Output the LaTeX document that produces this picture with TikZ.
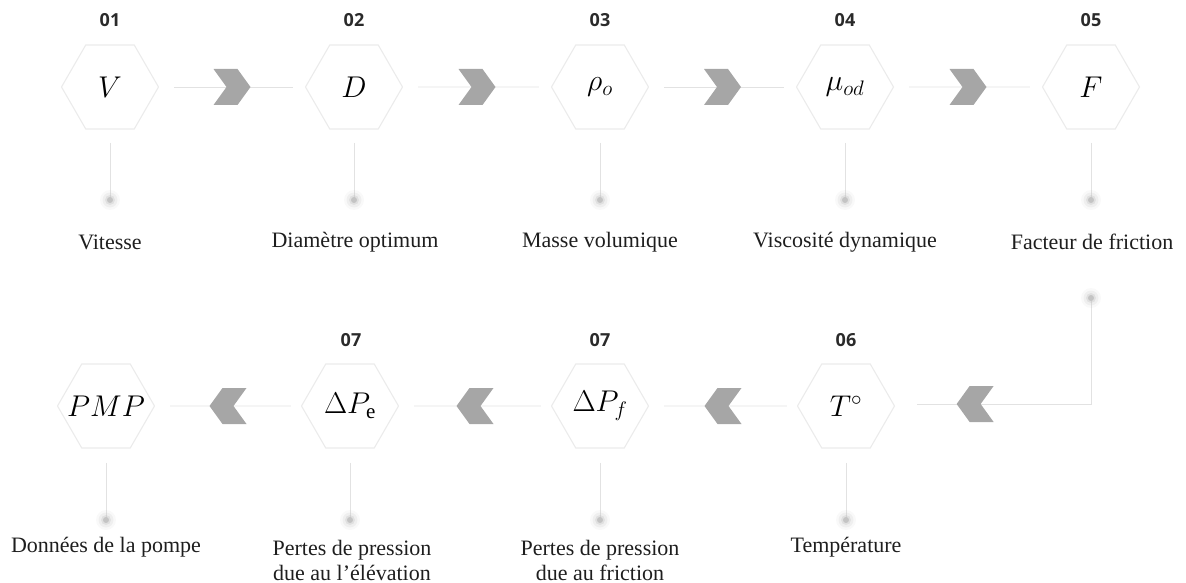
\RequirePackage{fix-cm}
\documentclass[tikz,border=0pt]{standalone}
\usepackage{fontspec}
\setmainfont{Liberation Serif}
\newfontfamily\numfont{Open Sans}
\usetikzlibrary{shapes.geometric,calc}
\definecolor{hexgray}{HTML}{EBEBEB}
\definecolor{linegray}{HTML}{E2E2E2}
\definecolor{chevgray}{HTML}{A6A6A6}
\definecolor{dotgray}{HTML}{C4C4C4}
\definecolor{labblack}{HTML}{1E1E1E}
\definecolor{numblack}{HTML}{2A2A2A}
\newcommand{\hxtext}[1]{\makebox[0pt]{#1}}
\tikzset{
  hexa/.style={regular polygon, regular polygon sides=6, minimum size=97pt,
    inner sep=0pt, draw=hexgray, line width=1.1pt, text=black,
    font=\fontsize{30}{34}\selectfont},
  conn/.style={draw=linegray, line width=0.9pt},
  numlab/.style={font=\numfont\bfseries\fontsize{18}{21}\selectfont, text=numblack},
  lab/.style={font=\fontsize{22}{25}\selectfont, align=center, text=labblack, inner sep=0pt},
  chevright/.pic={\fill[chevgray] (-18.5,-18) -- (5.5,-18) -- (18.5,0) -- (5.5,18) -- (-18.5,18) -- (-5.5,0) -- cycle;},
  chevleft/.pic={\fill[chevgray] (18.5,-18) -- (-5.5,-18) -- (-18.5,0) -- (-5.5,18) -- (18.5,18) -- (5.5,0) -- cycle;},
  glowdot/.pic={
    \fill[dotgray, opacity=0.10] (0,0) circle (10pt);
    \fill[dotgray, opacity=0.18] (0,0) circle (7.5pt);
    \fill[dotgray, opacity=0.35] (0,0) circle (5pt);
    \fill[dotgray] (0,0) circle (3pt);}
}
\begin{document}
\begin{tikzpicture}[x=1pt,y=-1pt]
\useasboundingbox (0,0) rectangle (1186,583);
% top row
\node[hexa] (v)   at (110,87) {\hxtext{$V$}};
\node[hexa] (d)   at (354,87) {\hxtext{$D$}};
\node[hexa] (rho) at (600,87) {\hxtext{$\rho_o$}};
\node[hexa] (mu)  at (845,87) {\hxtext{$\mu_{od}$}};
\node[hexa] (f)   at (1091,87) {\hxtext{$F$}};
% bottom row
\node[hexa] (pmp) at (106,406) {\hxtext{$PMP$}};
\node[hexa] (dpe) at (350,406) {\hxtext{$\Delta P_{\mathrm{e}}$}};
\node[hexa] (dpf) at (600,406) {\hxtext{$\Delta P_f$}};
\node[hexa] (t)   at (846,406) {\hxtext{$T^{\circ}$}};
% numbers
\node[numlab] (n1) at (110,20) {01};
\node[numlab] (n2) at (354,20) {02};
\node[numlab] (n3) at (600,20) {03};
\node[numlab] (n4) at (845,20) {04};
\node[numlab] (n5) at (1091,20) {05};
\node[numlab] (n7a) at (351,340) {07};
\node[numlab] (n7b) at (600,340) {07};
\node[numlab] (n6) at (846,340) {06};
% top connectors
\foreach \a/\b in {v/d, d/rho, rho/mu, mu/f}{
  \draw[conn] ([xshift=15pt]\a.east) -- ([xshift=-12pt]\b.west);
  \path ($(\a.east)!0.5!(\b.west)$) pic {chevright};
}
% bottom connectors
\foreach \a/\b in {pmp/dpe, dpe/dpf, dpf/t}{
  \draw[conn] ([xshift=15pt]\a.east) -- ([xshift=-10pt]\b.west);
  \path ($(\a.east)!0.5!(\b.west)$) pic {chevleft};
}
% vertical drops and dots
\foreach \n in {v, d, rho, mu, f}{
  \coordinate (dot\n) at ($(\n.center)+(0,113)$);
  \draw[conn] ([yshift=-13pt]\n.south) -- (dot\n);
  \path (dot\n) pic {glowdot};
}
\foreach \n in {pmp, dpe, dpf, t}{
  \coordinate (dot\n) at ($(\n.center)+(0,114)$);
  \draw[conn] ([yshift=-14pt]\n.south) -- (dot\n);
  \path (dot\n) pic {glowdot};
}
% labels
\node[lab] (lv)   at (110,242) {Vitesse};
\node[lab] (ld)   at (355,242) {Diamètre optimum};
\node[lab] (lrho) at (600,242) {Masse volumique};
\node[lab] (lmu)  at (845,242) {Viscosité dynamique};
\node[lab] (lf)   at (1092,242) {Facteur de friction};
\node[lab] (lpmp) at (106,547) {Données de la pompe};
\node[lab] (ldpe) at (352,560) {Pertes de pression\\due au l’élévation};
\node[lab] (ldpf) at (600,560) {Pertes de pression\\due au friction};
\node[lab] (lt)   at (846,547) {Température};
% link from F to T
\coordinate (fdot2) at ($(f.center)+(0,211)$);
\coordinate (corner) at ($(f.center)+(0,317)$);
\coordinate (tend) at ([xshift=22pt]t.east);
\draw[conn] (fdot2) -- (corner) -- (tend |- corner);
\path (fdot2) pic {glowdot};
\path ($(t.east)+(80,-2)$) pic {chevleft};
\end{tikzpicture}
\end{document}
